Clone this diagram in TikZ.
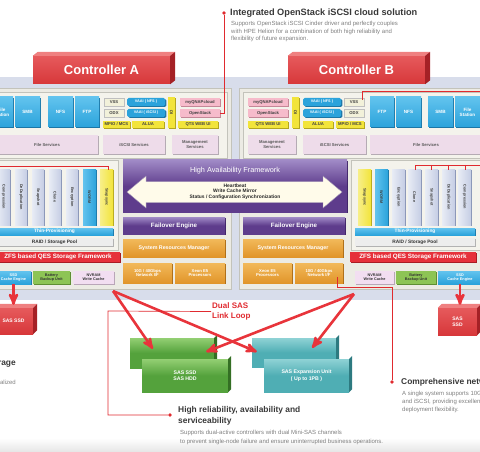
\documentclass[tikz,border=0pt]{standalone}
\usepackage{fontspec}
\setmainfont{Liberation Sans}
\usetikzlibrary{arrows}
\usetikzlibrary{shadows}
\usepackage{xcolor}

\definecolor{band}{HTML}{D8DDEB}
\definecolor{panel}{HTML}{ECEBE4}
\definecolor{panelL}{HTML}{F4F3EC}
\definecolor{panelD}{HTML}{C3C3BB}
\definecolor{ctrlred}{HTML}{D7373A}
\definecolor{ctrlredL}{HTML}{E65A5C}
\definecolor{ctrltop}{HTML}{EF8080}
\definecolor{ctrlside}{HTML}{A52126}
\definecolor{qblue}{HTML}{2BA3DB}
\definecolor{qblueL}{HTML}{62C3EE}
\definecolor{qblueD}{HTML}{1B76A6}
\definecolor{qyel}{HTML}{F2E43A}
\definecolor{qyelD}{HTML}{B3A61E}
\definecolor{qpink}{HTML}{F6BBCB}
\definecolor{qpinkD}{HTML}{C48797}
\definecolor{pale}{HTML}{F2F1DA}
\definecolor{svc}{HTML}{EEDCEA}
\definecolor{svcD}{HTML}{B5ABB4}
\definecolor{col}{HTML}{C5CDE4}
\definecolor{colL}{HTML}{E8ECF5}
\definecolor{colD}{HTML}{8491B3}
\definecolor{purp}{HTML}{5E3C8C}
\definecolor{purpL}{HTML}{A08AC6}
\definecolor{purpD}{HTML}{3E2366}
\definecolor{orng}{HTML}{E1952A}
\definecolor{orngL}{HTML}{F2B95A}
\definecolor{orngD}{HTML}{A86914}
\definecolor{zfs}{HTML}{E6313B}
\definecolor{zfsD}{HTML}{A91C24}
\definecolor{batt}{HTML}{8DC455}
\definecolor{battD}{HTML}{5F8E33}
\definecolor{nvram}{HTML}{F2DEF1}
\definecolor{nvramD}{HTML}{B9A6B8}
\definecolor{sasgrn}{HTML}{54A23C}
\definecolor{sasgrnL}{HTML}{93CF73}
\definecolor{sasgrnD}{HTML}{346F24}
\definecolor{sasteal}{HTML}{4FAEB4}
\definecolor{sastealL}{HTML}{8FD2D5}
\definecolor{sastealD}{HTML}{2D7A80}
\definecolor{sasred}{HTML}{E8343B}
\definecolor{linered}{HTML}{E02A2F}
\definecolor{txtgray}{HTML}{808080}
\definecolor{haw}{HTML}{FFFBEA}

\begin{document}
\begin{tikzpicture}[x=1pt, y=-1pt,
  bx/.style n args={4}{minimum width={(#3)-(#1)}, minimum height={(#4)-(#2)}, at={({((#1)+(#3))/2},{((#2)+(#4))/2})}},
  sh/.style={drop shadow={shadow xshift=1.3pt, shadow yshift=-1pt, fill=#1, opacity=1}},
  lbl/.style={inner sep=0, align=center, text=white, font=\bfseries\fontsize{4.2}{4.8}\selectfont},
  ctrl/.style={lbl, top color=ctrlredL, bottom color=ctrlred, font=\bfseries\fontsize{13}{13}\selectfont},
  proto/.style={lbl, top color=qblueL, bottom color=qblue, sh=qblueD, font=\bfseries\fontsize{4.6}{5.2}\selectfont},
  vaai/.style={lbl, fill=qblue, rounded corners=1.5pt, sh=qblueD, font=\bfseries\fontsize{3.8}{4.2}\selectfont},
  palebox/.style={lbl, fill=pale, draw=black!25, text=black!75},
  yel/.style={lbl, fill=qyel, sh=qyelD, text=black!75},
  pnk/.style={lbl, fill=qpink, sh=qpinkD, text=black!75},
  svcbox/.style={lbl, fill=svc, sh=svcD, text=black!65},
  colbox/.style={lbl, left color=colL, right color=col, sh=colD, text=black!75, font=\bfseries\fontsize{3.8}{4.2}\selectfont},
  wormbox/.style={colbox, left color=qblueL, right color=qblue, sh=qblueD},
  syncbox/.style={colbox, left color=qyel!60!white, right color=qyel, sh=qyelD},
  thinbar/.style={lbl, top color=qblueL, bottom color=qblue, sh=qblueD, font=\bfseries\fontsize{4.8}{5}\selectfont},
  raidbar/.style={lbl, fill=black!7, sh=black!30, text=black!80, font=\bfseries\fontsize{4.8}{5}\selectfont},
  zfsbar/.style={lbl, fill=zfs, sh=zfsD, font=\bfseries\fontsize{6.3}{7}\selectfont},
  ssdbox/.style={lbl, top color=qblueL, bottom color=qblue, sh=qblueD, font=\bfseries\fontsize{3.8}{4.3}\selectfont},
  battbox/.style={lbl, fill=batt, sh=battD, text=black!80, font=\bfseries\fontsize{3.8}{4.3}\selectfont},
  nvbox/.style={lbl, fill=nvram, sh=nvramD, text=black!80, font=\bfseries\fontsize{3.8}{4.3}\selectfont},
  purpbox/.style={lbl, top color=purpL, bottom color=purp, middle color=purp, sh=purpD, font=\bfseries\fontsize{6.2}{7}\selectfont},
  orbox/.style={lbl, top color=orngL, bottom color=orng, sh=orngD, font=\bfseries\fontsize{5.3}{6}\selectfont},
  sasbox/.style={lbl, top color=ctrlredL, bottom color=ctrlred, font=\bfseries\fontsize{5}{6}\selectfont},
  grnbox/.style={lbl, top color=sasgrnL, bottom color=sasgrn, middle color=sasgrn, font=\bfseries\fontsize{5.2}{6.4}\selectfont},
  tealbox/.style={lbl, top color=sastealL, bottom color=sasteal, middle color=sasteal, font=\bfseries\fontsize{5.2}{6.4}\selectfont},
  sas/.style={->, >=stealth', line width=2.6pt, sasred},
  callline/.style={linered, line width=.7pt},
  cdot/.style={circle, fill=linered, inner sep=0, minimum size=3.6pt},
  headline/.style={inner sep=0, align=left, text=black!78, font=\bfseries\fontsize{8.4}{10.5}\selectfont},
  desc/.style={inner sep=0, align=left, text=txtgray, font=\fontsize{6}{7.5}\selectfont},
  dualtxt/.style={inner sep=1pt, align=left, text=linered, font=\bfseries\fontsize{8}{10.5}\selectfont}]

\useasboundingbox (0,0) rectangle (480,452);
\clip (0,0) rectangle (480,452);

% background and panels
\fill[band] (0,77) rectangle (480,300);
\shade[top color=white, bottom color=black!10] (0,438) rectangle (480,452);
\draw[panelD, fill=panel] (-2,88) rectangle (231,289);
\draw[panelD, fill=panel] (239,88) rectangle (482,289);
\draw[panelD, fill=panelL] (-2,92) rectangle (227,158);
\draw[panelD, fill=panelL] (243,92) rectangle (482,158);
\draw[panelD, fill=panelL] (-2,160) rectangle (118,250);
\draw[panelD, fill=panelL] (351,160) rectangle (482,250);

% controllers
\node[ctrl, bx={33}{56}{170}{84}] (ctrlA) {Controller A};
\node[ctrl, bx={288}{56}{425}{84}] (ctrlB) {Controller B};
\foreach \n in {ctrlA, ctrlB} {
  \fill[ctrltop] (\n.north west) -- ++(5,-4) -- ([shift={(5pt,4pt)}]\n.north east) -- (\n.north east) -- cycle;
  \fill[ctrlside] (\n.north east) -- ([shift={(5pt,4pt)}]\n.north east) -- ([shift={(5pt,4pt)}]\n.south east) -- (\n.south east) -- cycle;
}

% controller A, protocols and services
\node[proto, bx={-10}{97}{13}{127}] (fsA) {File\\Station};
\node[proto, bx={15}{97}{40}{127}] (smbA) {SMB};
\node[proto, bx={48}{97}{73}{127}] (nfsA) {NFS};
\node[proto, bx={75}{97}{99}{127}] (ftpA) {FTP};
\node[palebox, bx={104}{98}{124}{106}] (vssA) {VSS};
\node[vaai, bx={127}{98}{165}{106}] (vnfsA) {VAAI ( NFS )};
\node[palebox, bx={104}{109}{124}{117}] (odxA) {ODX};
\node[vaai, bx={127}{109}{165}{117}] (viscA) {VAAI ( iSCSI )};
\node[yel, bx={103}{121}{130}{128}] (mpioA) {MPIO / MCS};
\node[yel, bx={132}{121}{164}{128}] (aluaA) {ALUA};
\node[yel, bx={168}{97}{175}{128}] (ioA) {\rotatebox{90}{IO}};
\node[pnk, bx={180}{98}{220}{106}] (qcA) {myQNAPcloud};
\node[pnk, bx={180}{109}{220}{117}] (osA) {OpenStack};
\node[yel, bx={178}{121}{218}{128}] (webA) {QTS WEB UI};
\node[svcbox, bx={-4}{135}{98}{154}] (fsvA) {File Services};
\node[svcbox, bx={103}{135}{165}{154}] (isvA) {iSCSI Services};
\node[svcbox, bx={172}{135}{218}{154}] (msvA) {Management\\Services};

% controller B, protocols and services
\node[pnk, bx={248}{98}{288}{106}] (qcB) {myQNAPcloud};
\node[pnk, bx={248}{109}{288}{117}] (osB) {OpenStack};
\node[yel, bx={248}{121}{288}{128}] (webB) {QTS WEB UI};
\node[yel, bx={292}{97}{299}{128}] (ioB) {\rotatebox{90}{IO}};
\node[vaai, bx={303}{98}{341}{106}] (vnfsB) {VAAI ( NFS )};
\node[palebox, bx={344}{98}{364}{106}] (vssB) {VSS};
\node[vaai, bx={303}{109}{341}{117}] (viscB) {VAAI ( iSCSI )};
\node[palebox, bx={344}{109}{364}{117}] (odxB) {ODX};
\node[yel, bx={303}{121}{333}{128}] (aluaB) {ALUA};
\node[yel, bx={336}{121}{364}{128}] (mpioB) {MPIO / MCS};
\node[proto, bx={370}{97}{394}{127}] (ftpB) {FTP};
\node[proto, bx={396}{97}{421}{127}] (nfsB) {NFS};
\node[proto, bx={428}{97}{453}{127}] (smbB) {SMB};
\node[proto, bx={455}{97}{480}{127}] (fsB) {File\\Station};
\node[svcbox, bx={248}{135}{296}{154}] (msvB) {Management\\Services};
\node[svcbox, bx={303}{135}{366}{154}] (isvB) {iSCSI Services};
\node[svcbox, bx={370}{135}{482}{154}] (fsvB) {File Services};

% storage stacks
\foreach \t/\a/\b [count=\i] in {Compression/-3/10, DeDuplication/15/27, Snapshot/32/44, Clone/49/61, Encryption/66/78}
  \node[colbox, bx={\a}{169}{\b}{225}] (colA\i) {\rotatebox{-90}{\t}};
\node[wormbox, bx={83}{169}{96}{225}] (wormA) {\rotatebox{-90}{WORM}};
\node[syncbox, bx={100}{169}{113}{225}] (syncA) {\rotatebox{-90}{Snapsync}};
\node[syncbox, bx={358}{169}{371}{225}] (syncB) {\rotatebox{-90}{Snapsync}};
\node[wormbox, bx={375}{169}{388}{225}] (wormB) {\rotatebox{-90}{WORM}};
\foreach \t/\a/\b [count=\i] in {Encryption/392/405, Clone/408/421, Snapshot/425/438, DeDuplication/442/455, Compression/458/471}
  \node[colbox, bx={\a}{169}{\b}{225}] (colB\i) {\rotatebox{-90}{\t}};
\draw[callline] (0,166) -- (108,166) -- (108,170);
\draw[callline] (415,170) |- (480,165);
\foreach \x in {431,448,465} \draw[callline] (\x,165) -- (\x,170);
\draw[callline] (362,100) |- (480,91);

\node[thinbar, bx={-4}{228}{113}{235}] (thinA) {Thin-Provisioning};
\node[raidbar, bx={-4}{238}{113}{246}] (raidA) {RAID / Storage Pool};
\node[zfsbar, bx={-4}{252}{120}{262}] (zfsA) {ZFS based QES Storage Framework};
\node[thinbar, bx={355}{228}{475}{235}] (thinB) {Thin-Provisioning};
\node[raidbar, bx={355}{238}{475}{246}] (raidB) {RAID / Storage Pool};
\node[zfsbar, bx={350}{252}{476}{262}] (zfsB) {ZFS based QES Storage Framework};

\node[ssdbox, bx={-4}{271}{31}{284}] (ssdA) {SSD\\Cache Engine};
\node[battbox, bx={33}{271}{70}{284}] (batA) {Battery\\Backup Unit};
\node[nvbox, bx={73}{271}{114}{284}] (nvA) {NVRAM\\Write Cache};
\node[nvbox, bx={355}{271}{394}{284}] (nvB) {NVRAM\\Write Cache};
\node[battbox, bx={396}{271}{436}{284}] (batB) {Battery\\Backup Unit};
\node[ssdbox, bx={438}{271}{482}{284}] (ssdB) {SSD\\Cache Engine};

% high availability
\node[purpbox, bx={123}{160}{347}{212}] (haF) {};
\node[lbl, font=\fontsize{7.3}{8}\selectfont] (haT) at (235,170.5) {High Availability Framework};
\fill[haw, draw=purpD!50] (127,192) -- (146,176) -- (146,181.5) -- (323,181.5) -- (323,176) -- (342,192) -- (323,208) -- (323,202.5) -- (146,202.5) -- (146,208) -- cycle;
\node[lbl, text=black!85, font=\bfseries\fontsize{4.9}{5.7}\selectfont] (hbT) at (235,191.5) {Heartbeat\\Write Cache Mirror\\Status / Configuration Synchronization};
\node[purpbox, bx={123}{217}{225}{234}] (foA) {Failover Engine};
\node[purpbox, bx={243}{217}{345}{234}] (foB) {Failover Engine};
\node[orbox, bx={123}{239}{225}{257}] (srmA) {System Resources Manager};
\node[orbox, bx={243}{239}{343}{257}] (srmB) {System Resources Manager};
\node[orbox, bx={123}{263}{172}{283}, font=\bfseries\fontsize{4.2}{4.8}\selectfont] (netA) {10G / 40Gbps\\Network I/F};
\node[orbox, bx={175}{263}{225}{283}, font=\bfseries\fontsize{4.2}{4.8}\selectfont] (xeA) {Xeon E5\\Processors};
\node[orbox, bx={243}{263}{292}{283}, font=\bfseries\fontsize{4.2}{4.8}\selectfont] (xeB) {Xeon E5\\Processors};
\node[orbox, bx={295}{263}{343}{283}, font=\bfseries\fontsize{4.2}{4.8}\selectfont] (netB) {10G / 40Gbps\\Network I/F};

% SAS SSD under the caches
\node[sasbox, bx={-6}{308}{33}{334}] (sasA) {SAS SSD};
\node[sasbox, bx={438}{308}{477}{335}] (sasB) {SAS\\SSD};
\foreach \n in {sasA, sasB} {
  \fill[ctrltop] (\n.north west) -- ++(4,-4) -- ([shift={(4pt,4pt)}]\n.north east) -- (\n.north east) -- cycle;
  \fill[ctrlside] (\n.north east) -- ([shift={(4pt,4pt)}]\n.north east) -- ([shift={(4pt,4pt)}]\n.south east) -- (\n.south east) -- cycle;
}
\draw[sas] (ssdA.south) -- ([yshift=3pt]ssdA.south |- sasA.north);
\draw[sas] (ssdB.south) -- ([yshift=3pt]ssdB.south |- sasB.north);

% expansion enclosures
\node[grnbox, bx={130}{338}{214}{368}] (grnBack) {};
\node[tealbox, bx={252}{338}{336}{367}] (tealBack) {};
\foreach \n/\c in {grnBack/sasgrnD, tealBack/sastealD}
  \fill[\c] (\n.north east) -- ([shift={(3pt,3pt)}]\n.north east) -- ([shift={(3pt,3pt)}]\n.south east) -- (\n.south east) -- cycle;
\node[grnbox, bx={142}{359}{228}{392}] (grnFront) {SAS SSD\\SAS HDD};
\node[tealbox, bx={264}{359}{349}{392}] (tealFront) {SAS Expansion Unit\\( Up to 1PB )};
\foreach \n/\c in {grnFront/sasgrnD, tealFront/sastealD}
  \fill[\c] (\n.north east) -- ([shift={(3pt,3pt)}]\n.north east) -- ([shift={(3pt,3pt)}]\n.south east) -- (\n.south east) -- cycle;

% dual SAS link loop
\coordinate (sasL) at (113,291);
\coordinate (sasR) at (354,294);
\draw[sas] (sasL) -- ([xshift=23pt,yshift=-11pt]grnBack.north west);
\draw[sas] (sasL) -- ([xshift=5pt,yshift=-14pt]tealBack.north west);
\draw[sas] (sasR) -- ([xshift=-8pt,yshift=-14pt]grnBack.north east);
\draw[sas] (sasR) -- ([xshift=-24pt,yshift=-10pt]tealBack.north east);
\node[dualtxt, anchor=west] (dual) at (211,311.5) {Dual SAS\\Link Loop};

% callouts
\node[cdot] (topDot) at (224,13) {};
\node[headline, anchor=west, font=\bfseries\fontsize{9.2}{11}\selectfont] (topTitle) at (230,13) {Integrated OpenStack iSCSI cloud solution};
\node[desc, anchor=north west] (topDesc) at (231,21.3) {Supports OpenStack iSCSI Cinder driver and perfectly couples\\with HPE Helion for a combination of both high reliability and\\flexibility of future expansion.};
\draw[callline] (topDot) |- (osA.east);

\node[cdot] (relDot) at (170,415) {};
\node[headline, anchor=west] (relTitle) at (178,416) {High reliability, availability and\\serviceability};
\node[desc, anchor=north west, font=\fontsize{6}{9}\selectfont] (relDesc) at (180,430.3) {Supports dual-active controllers with dual Mini-SAS channels\\to prevent single-node failure and ensure uninterrupted business operations.};
\draw[callline] (relDot) -| (108,311) -- (dual.west);

\node[cdot] (netDot) at (392,382) {};
\node[headline, anchor=west] (netTitle) at (401,382) {Comprehensive network};
\node[desc, anchor=north west, font=\fontsize{6}{8}\selectfont] (netDesc) at (402,391.3) {A single system supports 10GbE\\and iSCSI, providing excellent\\deployment flexibility.};
\draw[callline] ([xshift=-6pt,yshift=6pt]netB.south east) |- (392,287) -- (netDot);

\node[headline, anchor=east] (stoTitle) at (16,363) {Storage};
\node[desc, anchor=east] (stoDesc) at (16,382) {virtualized};
\end{tikzpicture}
\end{document}
